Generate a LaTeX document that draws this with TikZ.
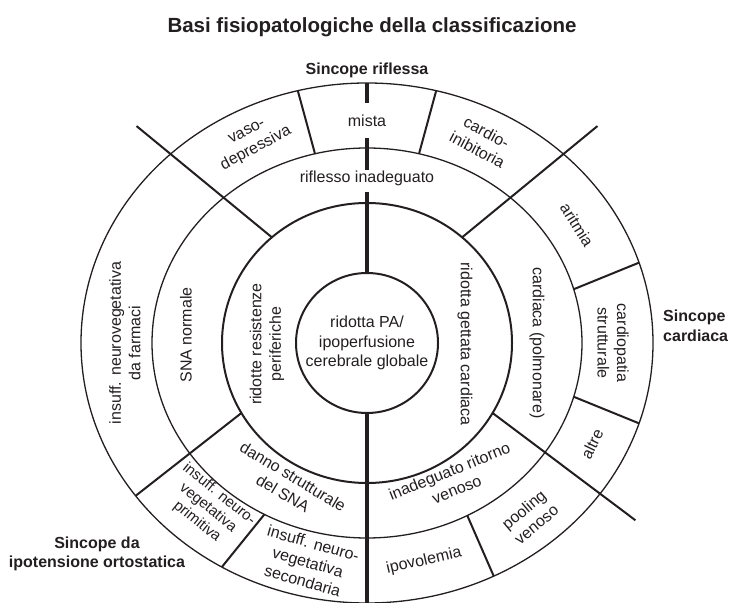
\documentclass[tikz,border=0pt]{standalone}
\usepackage{fontspec}
\setmainfont{Liberation Sans}
\usetikzlibrary{calc}

\definecolor{ink}{RGB}{35,31,32}

% point on an ellipse centred at (C): name, x radius, y radius, angle
\newcommand\onring[4]{\path (C) ++({#2*cos(#4)},{#3*sin(#4)}) coordinate (#1);}

\begin{document}
\begin{tikzpicture}[x=1pt,y=1pt,
  ring/.style={draw=ink, line width=1.3pt},
  corering/.style={draw=ink, line width=2pt},
  divider/.style={draw=ink, line width=2pt},
  axisline/.style={draw=ink, line width=4pt},
  lbl/.style={text=ink, font=\fontsize{16}{19.5}\selectfont, align=center, inner sep=0pt},
  head/.style={text=ink, font=\fontsize{16}{19.5}\selectfont\bfseries, align=center, inner sep=0pt},
  titlefont/.style={text=ink, font=\fontsize{20.5}{24}\selectfont\bfseries, inner sep=0pt}]
\useasboundingbox (0,0) rectangle (730,602);
\clip (0,0) rectangle (730,602);

\coordinate (C) at (367,259);

% concentric rings
\draw[ring] (C) ellipse [x radius=286pt, y radius=260pt];
\draw[ring] (C) ellipse [x radius=215pt, y radius=195pt];
\draw[corering] (C) ellipse [x radius=145pt, y radius=140pt];
\draw[corering] (C) ellipse [x radius=71pt, y radius=70pt];

% vertical axis, interrupted by the top labels
\coordinate (v1a) at (367,519); \coordinate (v1b) at (367,499);
\coordinate (v2a) at (367,464); \coordinate (v2b) at (367,432);
\coordinate (v3a) at (367,410); \coordinate (v3b) at (367,329);
\coordinate (v4a) at (367,189); \coordinate (v4b) at (367,-6);
\draw[axisline] (v1a) -- (v1b);
\draw[axisline] (v2a) -- (v2b);
\draw[axisline] (v3a) -- (v3b);
\draw[axisline] (v4a) -- (v4b);

% long diagonals
\onring{ulin}{145}{140}{131} \onring{ulout}{331.8}{301.6}{134}
\onring{urin}{145}{140}{49}  \onring{urout}{331.8}{301.6}{46}
\onring{lrin}{145}{140}{-30} \onring{lrout}{331.8}{301.6}{-36}
\onring{llin}{145}{140}{210} \onring{llout}{286}{260}{216}
\draw[divider] (ulin) -- (ulout);
\draw[divider] (urin) -- (urout);
\draw[divider] (lrin) -- (lrout);
\draw[divider] (llin) -- (llout);

% short dividers of the outer ring
\onring{d1a}{215}{195}{104}   \onring{d1b}{286}{260}{104}
\onring{d2a}{215}{195}{76}    \onring{d2b}{286}{260}{76}
\onring{d3a}{215}{195}{16}    \onring{d3b}{286}{260}{18}
\onring{d4a}{215}{195}{-16}   \onring{d4b}{286}{260}{-18}
\onring{d5a}{215}{195}{241.5} \onring{d5b}{286}{260}{239.5}
\onring{d6a}{215}{195}{297.8} \onring{d6b}{286}{260}{296.3}
\draw[divider] (d1a) -- (d1b);
\draw[divider] (d2a) -- (d2b);
\draw[divider] (d3a) -- (d3b);
\draw[divider] (d4a) -- (d4b);
\draw[divider] (d5a) -- (d5b);
\draw[divider] (d6a) -- (d6b);

% headings
\node[titlefont] (title) at (372,575) {Basi fisiopatologiche della classificazione};
\node[head] (hrefl) at (367,532) {Sincope riflessa};
\node[head, align=left, anchor=west] (hcard) at (663,276) {Sincope\\cardiaca};
\node[head] (horto) at (97,48) {Sincope da\\ipotensione ortostatica};

% core
\node[lbl] (core) at (367,259) {ridotta PA/\\ipoperfusione\\cerebrale globale};

% reflex branch
\node[lbl] (mista) at (367,481) {mista};
\node[lbl] (rifl) at (367,424) {riflesso inadeguato};
\node[lbl, rotate=28] (vaso) at (252,461) {vaso-\\depressiva};
\node[lbl, rotate=-28] (cinib) at (482,461) {cardio-\\inibitoria};

% cardiac branch
\node[lbl, rotate=-90] (gett) at (465,258) {ridotta gettata cardiaca};
\node[lbl, rotate=-90] (polm) at (537,259) {cardiaca (polmonare)};
\node[lbl, rotate=-58] (arit) at (577,377) {aritmia};
\node[lbl, rotate=-90] (strut) at (613,259) {cardiopatia\\strutturale};
\node[lbl, rotate=64] (altre) at (592,158) {altre};

% venous return
\node[lbl, rotate=22] (ritorno) at (453,122) {inadeguato ritorno\\venoso};
\node[lbl, rotate=40] (pool) at (530,85) {pooling\\venoso};
\node[lbl, rotate=13] (ipov) at (424,41) {ipovolemia};

% orthostatic branch
\node[lbl, rotate=90] (resist) at (267,258) {ridotte resistenze\\periferiche};
\node[lbl, rotate=90] (sna) at (186,267) {SNA normale};
\node[lbl, rotate=90] (farm) at (125,259) {insuff. neurovegetativa\\da farmaci};
\node[lbl, rotate=-31] (danno) at (288,117) {danno strutturale\\del SNA};
\node[lbl, rotate=-39, font=\fontsize{15}{17.5}\selectfont] (prim) at (208,94) {insuff. neuro-\\vegetativa\\primitiva};
\node[lbl, rotate=-16] (sec) at (308,40) {insuff. neuro-\\vegetativa\\secondaria};
\end{tikzpicture}
\end{document}
